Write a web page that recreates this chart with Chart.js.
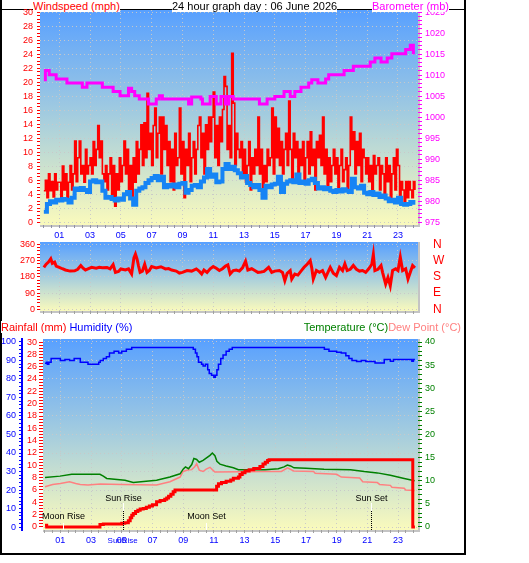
<!DOCTYPE html>
<html><head><meta charset="utf-8">
<script src="https://cdn.jsdelivr.net/npm/chart.js@4/dist/chart.umd.min.js"></script>
<style>
html,body{margin:0;padding:0;background:#fff;width:529px;height:563px;overflow:hidden;}
#wrap{position:relative;width:529px;height:563px;font-family:'Liberation Sans',Arial,sans-serif;}
canvas{position:absolute;left:0;}
.t{position:absolute;font-size:11px;line-height:12px;white-space:nowrap;background:#fff;}
.ln{position:absolute;background:#000;}
</style></head><body>
<div id="wrap">
 <div class="ln" style="left:0;top:0;width:2px;height:555px"></div>
 <div class="ln" style="left:464px;top:0;width:2px;height:555px"></div>
 <div class="ln" style="left:0;top:553px;width:466px;height:2px"></div>
 <div class="ln" style="left:0;top:9px;width:466px;height:1px"></div>
 <canvas id="cA" width="529" height="246" style="top:0"></canvas>
 <canvas id="cB" width="529" height="91" style="top:230px"></canvas>
 <canvas id="cC" width="529" height="225" style="top:330px"></canvas>
 <div class="t" style="left:33px;top:0;color:#ff0000">Windspeed (mph)</div>
 <div class="t" style="left:172px;top:0;color:#000">24 hour graph day : 06 June 2026</div>
 <div class="t" style="left:372px;top:0;color:#ff00ff">Barometer (mb)</div>
 <div class="t" style="left:1px;top:321px;color:#ff0000">Rainfall (mm)<span style="color:#0000ff;margin-left:3px">Humidity (%)</span></div>
 <div class="t" style="right:68px;top:321px;color:#008000">Temperature (°C)<span style="color:#ff8080">Dew Point (°C)</span></div>
</div>
<script>
// ---------------- DATA ----------------
const hourTickHours  = [1,3,5,7,9,11,13,15,17,19,21,23];
const hourTickLabels = ['01','03','05','07','09','11','13','15','17','19','21','23'];

const windLabels = [0,2,4,6,8,10,12,14,16,18,20,22,24,26,28,30];
const baroLabels = [975,980,985,990,995,1000,1005,1010,1015,1020,1025];
const dirLabels  = [0,90,180,270,360];
const compassValues = [360,270,180,90,0];
const compassLabels = ['N','W','S','E','N'];
const humLabels  = [0,10,20,30,40,50,60,70,80,90,100];
const rainLabels = [0,2,4,6,8,10,12,14,16,18,20,22,24,26,28,30];
const tempLabels = [0,5,10,15,20,25,30,35,40];

// wind gust (mph), one value every 0.1 h from 00:00
const GUST_STEP_H = 0.1;
const gustMph = [
 4.5,6.0,3.5,6.9,4.5,5.8,3.6,6.9,4.6,5.7,
 5.7,3.5,8.0,4.6,6.9,3.4,5.7,8.1,4.6,6.9,
 11.6,5.8,9.2,11.6,6.9,8.1,5.7,10.4,6.9,8.1,
 9.2,6.9,11.5,8.1,10.4,13.8,9.2,11.6,6.9,5.8,
 8.1,4.6,6.9,9.2,3.5,8.1,2.3,6.9,4.6,9.2,
 5.8,8.1,11.6,6.9,10.4,4.6,8.1,3.5,9.2,5.7,
 11.5,6.9,10.4,13.9,8.1,14.2,9.2,18.4,10.4,12.7,
 8.1,13.8,16.3,9.2,12.7,15.0,6.9,15.0,10.4,13.8,
 8.1,11.5,5.8,10.4,4.6,12.7,8.1,9.2,16.3,6.9,
 11.5,3.5,10.4,8.1,12.7,5.8,9.2,11.5,6.9,10.4,
 13.8,15.0,9.2,12.7,6.9,13.9,10.4,15.0,11.5,15.0,
 18.6,9.2,13.8,8.1,15.0,11.5,16.1,20.8,19.4,10.4,
 13.8,9.2,24.1,17.0,8.1,12.7,10.4,9.2,11.5,6.9,
 10.4,5.8,8.1,11.5,4.6,9.2,6.9,10.4,8.1,15.0,
 6.9,10.4,4.6,8.1,5.8,10.4,8.1,9.2,16.3,6.9,
 15.0,9.2,13.4,8.1,11.5,6.9,10.4,12.7,8.1,17.3,
 10.4,5.8,12.7,9.2,11.5,6.9,10.4,8.1,11.5,5.8,
 9.2,11.5,6.9,12.9,8.1,10.4,4.6,11.5,9.2,12.4,
 8.1,15.0,6.9,10.4,4.6,9.2,5.8,8.1,10.4,6.9,
 9.2,4.6,8.1,10.4,5.8,7.5,9.2,4.6,8.1,15.0,
 10.4,12.9,6.9,11.5,8.1,12.7,5.8,10.4,9.2,6.9,
 9.2,5.8,8.1,4.6,9.5,6.9,8.1,9.2,4.6,8.1,
 6.9,3.5,9.2,5.8,8.1,3.0,6.9,9.2,4.6,10.4,
 8.1,3.5,5.8,4.6,2.8,5.8,3.5,5.8,4.6,3.5,
 5.8,4.6
];

// average wind speed (mph), one value every 0.2 h
const WIND_STEP_H = 0.2;
const windAvgMph = [
 1.5,2.6,3.0,2.8,3.2, 3.1,3.3,3.2,2.8,3.5, 4.8,4.6,4.9,4.6,4.3, 5.8,6.0,5.7,5.8,4.5,
 3.5,3.6,3.3,3.1,3.4, 3.2,4.0,4.3,3.4,2.5, 4.5,4.8,5.0,5.6,6.0, 6.3,6.6,6.0,6.5,5.0,
 5.3,5.1,5.4,5.0,5.5, 5.6,4.2,4.6,5.2,5.3, 5.0,5.8,6.4,7.6,6.5, 6.8,5.7,5.8,7.6,8.3,
 7.6,7.9,7.4,7.0,6.4, 6.6,5.6,5.3,5.0,5.3, 4.6,3.5,5.2,5.0,5.4, 5.5,6.5,4.3,5.5,5.8,
 6.0,5.7,6.8,5.6,5.8, 5.5,6.0,6.2,5.6,4.8, 5.0,4.7,4.9,4.5,4.3, 4.6,4.4,4.7,4.5,4.3,
 6.2,5.0,4.8,5.2,4.2, 4.0,4.3,3.9,4.1,3.6, 3.8,3.4,3.0,3.2,2.8, 3.5,2.6,2.5,2.6,2.9,
 2.5
];

// barometer (mb) change points
const baroHours = [0,0.1,0.35,0.8,1.5,2.5,2.8,3.8,4.5,4.95,5.5,5.7,5.9,6.2,6.8,7.3,7.5,7.7,7.9,9.4,
 9.6,10.2,10.3,10.8,11.2,11.5,11.8,12.0,12.3,14.0,14.5,15.0,15.6,16.0,16.3,16.7,17.2,17.4,17.8,18.3,
 18.5,19.5,20.1,21.2,21.5,21.9,22.3,22.6,23.5,23.8,24.0,24.1];
const baroMb = [1008.9,1011.1,1010.1,1009.1,1008.1,1007.1,1008.1,1007.1,1006.1,1005.1,
 1006.9,1006.1,1005.1,1004.3,1003.1,1004.3,1005.1,1004.3,1004.3,1003.1,
 1004.8,1004.3,1003.1,1004.9,1003.1,1004.9,1003.1,1004.9,1004.3,1003.1,
 1004.3,1004.9,1006.1,1004.9,1006.1,1007.1,1008.1,1008.9,1008.1,1009.1,
 1010.1,1011.1,1012.1,1013.1,1014.1,1013.1,1014.1,1015.1,1016.1,1017.1,
 1015.3,1015.3];

// wind direction (degrees)
const dirHours = [0.0,0.15,0.3,0.45,0.55,0.7,0.8,1.0,1.2,1.4,1.7,2.0,2.2,2.4,2.55,2.7,2.9,3.1,3.4,3.6,
 3.8,4.1,4.3,4.5,4.65,4.85,5.0,5.3,5.5,5.7,5.85,5.95,6.05,6.15,6.25,6.4,6.55,6.7,6.85,7.0,
 7.3,7.6,7.9,8.1,8.3,8.6,8.8,9.0,9.3,9.6,9.9,10.1,10.25,10.4,10.6,10.8,11.0,11.2,11.4,11.6,
 11.8,11.95,12.1,12.3,12.5,12.7,12.9,13.1,13.25,13.5,13.7,13.9,14.1,14.3,14.6,14.8,15.0,15.3,15.5,15.65,
 15.8,16.0,16.1,16.3,16.5,16.7,16.9,17.1,17.3,17.4,17.5,17.7,17.9,18.1,18.3,18.5,18.6,18.8,19.0,19.2,
 19.4,19.55,19.7,19.9,20.1,20.3,20.5,20.7,20.9,21.1,21.3,21.4,21.5,21.7,21.9,22.0,22.2,22.35,22.5,22.65,
 22.85,23.0,23.15,23.3,23.5,23.65,23.8,23.95,24.1];
const dirDeg = [232,250,262,280,255,262,240,233,225,218,212,214,222,243,228,218,226,233,228,233,
 230,232,224,248,205,210,224,218,224,196,285,306,280,240,205,212,250,205,215,237,
 230,236,224,226,218,212,201,205,215,212,224,210,196,218,205,225,237,228,215,225,
 240,246,196,215,218,212,230,267,218,225,215,205,207,210,233,205,212,215,205,159,
 200,215,168,196,190,212,233,250,270,230,168,215,205,215,177,215,233,200,187,233,
 215,252,215,222,243,222,212,215,205,225,250,304,215,222,243,205,140,177,131,215,
 225,215,289,215,225,168,205,243,230];

// rainfall (mm, cumulative) change points
const rainHours = [0,0.11,3.58,3.8,5.0,5.2,5.43,5.55,5.65,5.75,5.9,6.05,6.2,6.4,6.6,6.8,7.0,7.27,7.5,7.8,
 7.93,8.05,8.2,8.35,8.47,11.18,11.3,11.5,11.8,12.1,12.27,12.6,12.7,12.85,13.03,13.3,13.6,14.0,14.2,14.35,
 14.5,14.6,23.95,23.96,24.1];
const rainMm = [0.3,0,0.4,0.5,0.6,0.7,1.0,1.5,1.9,2.2,2.5,2.7,2.9,3.0,3.2,3.4,3.6,4.1,4.3,4.5,
 4.7,5.0,5.3,5.7,6.0,6.6,7.0,7.2,7.4,7.6,7.9,8.1,8.5,8.8,9.1,9.3,9.5,9.8,10.2,10.5,
 10.8,10.9,10.9,0,0];

// humidity (%) change points
const humHours = [0,0.1,0.15,0.25,0.4,1.0,1.3,1.6,1.9,2.3,2.8,3.5,3.6,3.8,4.0,4.2,4.5,4.8,5.0,5.3,
 5.65,9.66,9.8,9.9,10.0,10.2,10.3,10.45,10.6,10.7,10.85,11.0,11.1,11.2,11.3,11.45,11.6,11.8,12.0,12.2,
 18.2,18.5,19.0,19.3,19.6,19.8,20.0,20.3,20.6,20.9,21.5,22.1,22.5,22.7,23.9,24.0,24.1];
const humPct = [88.5,89,88,89,91,90,90.5,90,91,89,88,89,90,91,92,94,95,94,95,96,
 97,96,94,92,89,88,87,88,85,83,82,81,82,85,88,91,93,95,96,97,
 96,95,94.5,94,92.5,91,90,89.5,90,89.5,88.6,90.5,89.6,90.5,89.6,90.5,90.5];

// temperature (°C)
const tempHours = [0,0.98,1.74,3.58,3.8,4.02,5.21,5.75,7.27,8.14,8.8,9.0,9.15,9.35,9.56,9.7,9.88,10.05,10.3,10.5,
 10.75,10.9,11.07,11.2,11.4,11.8,12.27,12.6,14.33,15.2,15.57,15.79,16.0,16.22,17.0,18.18,19.9,20.8,21.65,22.5,
 23.4,24.08];
const tempC = [10.7,11.0,11.4,11.4,11.0,10.5,10.1,9.6,10.1,10.8,11.5,12.5,13.0,12.6,13.5,14.8,14.6,14.0,14.4,14.9,
 15.5,16.0,15.4,14.2,13.6,13.2,12.8,12.4,12.4,12.6,13.0,13.4,13.2,12.8,12.7,12.5,12.4,12.0,11.7,11.2,
 10.5,10.0];

// dew point (°C)
const dewHours = [0,0.5,1.0,1.6,2.0,2.3,2.8,3.6,5.0,7.27,8.14,8.8,9.0,9.3,9.56,9.75,9.88,10.05,10.3,10.5,
 10.75,10.9,11.07,14.33,15.4,15.8,16.2,17.5,17.6,19.0,19.3,20.5,20.7,21.65,21.8,22.5,22.6,23.4,23.5,24.08];
const dewC = [8.7,9.2,9.4,9.8,9.4,9.2,9.1,9.3,9.2,9.1,9.8,10.8,12.0,12.3,12.4,13.0,13.7,12.3,12.0,12.5,
 12.9,12.4,11.9,12.0,12.0,12.8,12.1,12.0,11.6,11.4,10.8,10.6,9.8,9.6,9.2,9.0,8.6,8.4,8.0,7.9];

// sun / moon events
const eventNames = ['Moon Rise','Sun Rise','Moon Set','Sun Set'];
const eventKinds = ['moon','sun','moon','sun'];
const eventHours = [1.17,5.06,10.49,21.26];
const sunriseAxisLabel = 'SunRise';

// ---------------- HELPERS ----------------
const FONT = "'Liberation Sans', Arial, sans-serif";
const tickFont = {family: FONT, size: 9};
const GRID = 'rgba(200,200,200,0.95)';
const DASH = [1,3];
function stepTicks(from,to,step){const t=[];const n=Math.round((to-from)/step);for(let i=0;i<=n;i++)t.push({value:+(from+i*step).toFixed(3)});return t;}
function has(arr,v){return arr.some(a=>Math.abs(a-v)<1e-6);}
function pts(xs,ys){return xs.map((x,i)=>({x:x,y:ys[i]}));}
function gridPts(step,ys){return ys.map((y,i)=>({x:+(i*step).toFixed(3),y:y}));}

function xAxis(min,max,h,showLabels,tickCol){
  return {type:'linear',min:min,max:max,
    afterBuildTicks:s=>{s.ticks=stepTicks(0,24,0.5);},
    afterFit:s=>{s.height=h;},
    ticks:{autoSkip:false,maxRotation:0,minRotation:0,color:'#0000ff',font:tickFont,padding:2,
      callback:v=>{if(!showLabels)return '';const i=hourTickHours.indexOf(v);return i>=0?hourTickLabels[i]:'';}},
    grid:{color:c=>(c.tick&&has(hourTickHours,c.tick.value))?GRID:'transparent',tickColor:tickCol,tickLength:3,lineWidth:1},
    border:{display:false,dash:DASH}};
}
function yAxis(o){
  return {type:'linear',position:o.pos,min:o.min,max:o.max,weight:o.weight||0,
    afterBuildTicks:s=>{s.ticks=stepTicks(o.from,o.to,o.step);},
    afterFit:s=>{s.width=o.width;},
    ticks:{autoSkip:false,color:o.color,font:o.font||tickFont,padding:o.pad,
      callback:v=>{const i=o.labelVals.indexOf(v);return i>=0?(o.labelText?o.labelText[i]:String(v)):'';}},
    grid:{drawOnChartArea:!!o.grid,drawTicks:o.tickLen>0,
      color:c=>(o.grid&&c.tick&&has(o.gridVals||o.labelVals,c.tick.value))?GRID:'transparent',
      tickColor:o.color,tickLength:o.tickLen||0},
    border:o.border||{display:false,dash:DASH}};
}
const panelPlugin={id:'panel',beforeDraw(chart){
  const {ctx,chartArea:a}=chart;
  const g=ctx.createLinearGradient(0,a.top,0,a.bottom);
  g.addColorStop(0,'rgb(88,160,255)');
  g.addColorStop(0.5,'rgb(165,205,222)');
  g.addColorStop(1,'rgb(250,250,188)');
  ctx.save();ctx.fillStyle=g;ctx.fillRect(a.left,a.top,a.right-a.left,a.bottom-a.top);
  ctx.fillStyle='#c4c4c4';ctx.fillRect(a.right,a.top,2,a.bottom-a.top+2);ctx.fillRect(a.left,a.bottom,a.right-a.left+2,2);
  ctx.restore();}};
const base={responsive:false,animation:false,devicePixelRatio:1,events:[],
  plugins:{legend:{display:false},tooltip:{enabled:false}}};
const lineDs=(data,axis,color,w,stepped,order)=>({data:data,yAxisID:axis,borderColor:color,borderWidth:w,stepped:stepped,pointRadius:0,tension:0,fill:false,order:order});

// ---------------- CHART A: wind + barometer ----------------
new Chart(document.getElementById('cA'),{type:'line',
  data:{datasets:[
    lineDs(gridPts(GUST_STEP_H,gustMph),'yW','#ff0000',1.6,true,3),
    lineDs(gridPts(WIND_STEP_H,windAvgMph),'yW','#1584f5',4,true,2),
    lineDs(pts(baroHours,baroMb),'yB','#ff00ff',3,true,1)]},
  options:Object.assign({},base,{layout:{padding:{top:10,left:0,right:0,bottom:0}},
    scales:{
      x:xAxis(-0.25,24.3,21,true,'#9090a8'),
      yW:yAxis({pos:'left',min:-0.4,max:30.3,from:0,to:30,step:0.5,labelVals:windLabels,color:'#ff0000',width:40,grid:true,tickLen:3,pad:4}),
      yB:yAxis({pos:'right',min:974.33,max:1025.5,from:975,to:1025,step:1,labelVals:baroLabels,color:'#ff00ff',width:111,grid:false,tickLen:4,pad:3})
    }}),
  plugins:[panelPlugin]});

// ---------------- CHART B: wind direction ----------------
new Chart(document.getElementById('cB'),{type:'line',
  data:{datasets:[lineDs(pts(dirHours,dirDeg),'yD','#ff0000',3,false,1)]},
  options:Object.assign({},base,{layout:{padding:{top:12,left:0,right:0,bottom:0}},
    scales:{
      x:xAxis(-0.25,24.3,10,false,'#a0a0a0'),
      yD:yAxis({pos:'left',min:-8.8,max:373,from:0,to:360,step:18,labelVals:dirLabels,color:'#ff0000',width:40,grid:true,tickLen:3,pad:2}),
      yN:{type:'linear',position:'right',min:-8.8,max:373,
        afterBuildTicks:s=>{s.ticks=compassValues.map(v=>({value:v}));},
        afterFit:s=>{s.width=111;},
        ticks:{autoSkip:false,color:'#ff0000',font:{family:FONT,size:12},padding:1,
          callback:v=>{const i=compassValues.indexOf(v);return i>=0?compassLabels[i]:'';}},
        grid:{drawOnChartArea:false,drawTicks:true,tickLength:14,tickColor:'transparent'},border:{display:false}}
    }}),
  plugins:[panelPlugin]});

// ---------------- CHART C: rain, humidity, temperature ----------------
const eventPlugin={id:'events',
  afterDatasetsDraw(chart){
    const {ctx,chartArea:a,scales:{x}}=chart;
    ctx.save();ctx.font='9px '+FONT;ctx.textAlign='center';ctx.textBaseline='middle';ctx.lineWidth=1;
    const seg=(x1,y1,x2,y2)=>{ctx.beginPath();ctx.moveTo(x1,y1);ctx.lineTo(x2,y2);ctx.stroke();};
    eventNames.forEach((name,i)=>{
      const px=Math.round(x.getPixelForValue(eventHours[i]))+0.5;
      if(eventKinds[i]==='sun'){
        ctx.setLineDash([]);ctx.strokeStyle='#ffffff';seg(px,a.bottom-27,px,a.bottom-19);
        ctx.setLineDash([1,1]);ctx.strokeStyle='#000000';seg(px,a.bottom-19,px,a.bottom);
        ctx.setLineDash([]);ctx.fillStyle='#000';ctx.fillText(name,px,a.bottom-31.5);
      }else{
        ctx.setLineDash([]);ctx.strokeStyle='#ffffff';seg(px,a.bottom-7,px,a.bottom);
        ctx.fillStyle='#000';ctx.fillText(name,px,a.bottom-13);
      }
    });
    ctx.restore();},
  afterDraw(chart){
    const {ctx,chartArea:a,scales:{x}}=chart;
    const px=x.getPixelForValue(eventHours[1]);
    ctx.save();ctx.font='8px '+FONT;ctx.fillStyle='#0000ff';ctx.textAlign='center';ctx.textBaseline='middle';
    ctx.fillText(sunriseAxisLabel,px,a.bottom+10.5);ctx.restore();}};

new Chart(document.getElementById('cC'),{type:'line',
  data:{datasets:[
    lineDs(pts(rainHours,rainMm),'yR','#ff0000',3,true,1),
    lineDs(pts(humHours,humPct),'yH','#0000ff',1.5,true,2),
    lineDs(pts(tempHours,tempC),'yT','#008000',1.5,false,3),
    lineDs(pts(dewHours,dewC),'yT','#ff8080',1.5,false,4)]},
  options:Object.assign({},base,{layout:{padding:{top:9,left:0,right:0,bottom:0}},
    scales:{
      x:xAxis(-0.13,24.3,25,true,'#a0a0a0'),
      yH:yAxis({pos:'left',weight:2,min:-1.6,max:101.6,from:0,to:100,step:2,labelVals:humLabels,color:'#0000ff',width:22,grid:true,tickLen:3,pad:3,
        border:{display:true,color:'#0000ff',width:2,dash:DASH}}),
      yR:yAxis({pos:'left',weight:1,min:-0.49,max:30.49,from:0,to:30,step:0.5,labelVals:rainLabels,color:'#ff0000',width:21,grid:false,tickLen:4,pad:2}),
      yT:yAxis({pos:'right',min:-0.65,max:40.65,from:0,to:40,step:1,labelVals:tempLabels,color:'#008000',width:111,grid:false,tickLen:4,pad:3})
    }}),
  plugins:[panelPlugin,eventPlugin]});
</script>
</body></html>
